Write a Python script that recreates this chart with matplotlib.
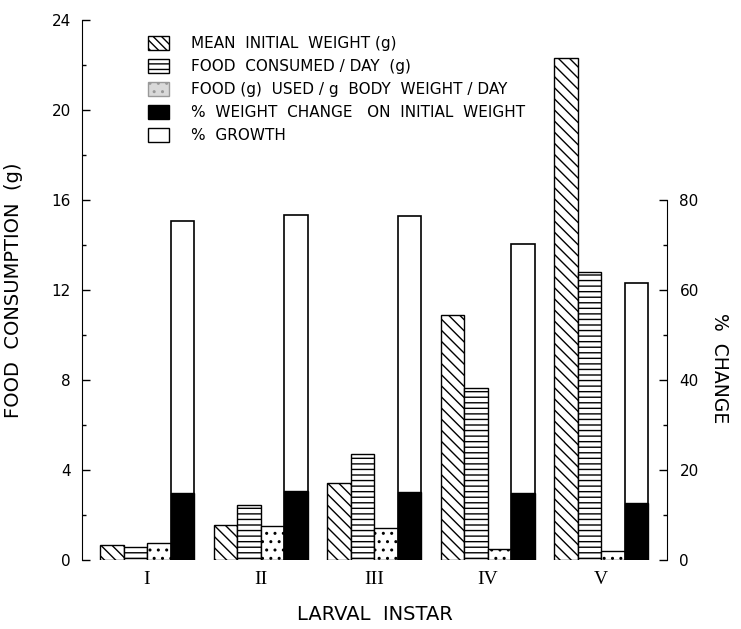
import numpy as np
import matplotlib
matplotlib.use("Agg")
import matplotlib.pyplot as plt
import matplotlib.patches as patches

################################################################################
############################### Data ###########################################
################################################################################

instars = ["I", "II", "III", "IV", "V"]
#left axis, grams
mean_initial_weight = [0.67, 1.55, 3.42, 10.9, 22.3]
food_consumed = [0.58, 2.45, 4.71, 7.64, 12.8]
food_per_body_weight = [0.76, 1.5, 1.42, 0.48, 0.4]
#right axis, percent
weight_change_pct = [14.9, 15.3, 15.1, 14.9, 12.6]
growth_pct = [75.4, 76.7, 76.5, 70.3, 61.6]

legend_labels = ["MEAN  INITIAL  WEIGHT (g)",
                 "FOOD  CONSUMED / DAY  (g)",
                 "FOOD (g)  USED / g  BODY  WEIGHT / DAY",
                 "%  WEIGHT  CHANGE   ON  INITIAL  WEIGHT",
                 "%  GROWTH"]

################################################################################
############################### Plot ###########################################
################################################################################

fig = plt.figure(figsize=(7.41, 6.29), dpi=100)
ax = fig.add_axes([82/741, 69/629, 585/741, 540/629])
ax2 = ax.twinx()

x = np.arange(len(instars))
w = 0.207 #bar width in group units

styles = dict(facecolor="white", edgecolor="black", linewidth=1.0)
b1 = ax.bar(x - 1.5*w, mean_initial_weight, w, hatch="\\\\\\", **styles)
b2 = ax.bar(x - 0.5*w, food_consumed, w, hatch="---", **styles)
b3 = ax.bar(x + 0.5*w, food_per_body_weight, w, hatch="..", **styles)
b5 = ax2.bar(x + 1.5*w, growth_pct, w, facecolor="white", edgecolor="black",
             linewidth=1.2)
b4 = ax2.bar(x + 1.5*w, weight_change_pct, w, facecolor="black",
             edgecolor="black", linewidth=1.0)

#axes limits, right scale is 5x the left one
ax.set_xlim(-0.573, 4.58)
ax.set_ylim(0, 24)
ax2.set_ylim(0, 120)

#left axis
ax.set_yticks(np.arange(0, 25, 4))
ax.set_yticks(np.arange(2, 24, 4), minor=True)
ax.tick_params(axis="y", which="major", direction="in", length=6, width=1,
               labelsize=11, pad=8)
ax.tick_params(axis="y", which="minor", direction="in", length=3, width=1)
ax.set_xticks(x)
ax.set_xticklabels(instars, family="Liberation Serif", fontsize=14)
ax.tick_params(axis="x", length=0, pad=8)
for s in ["top", "right", "bottom"]:
    ax.spines[s].set_visible(False)

#right axis
ax2.set_yticks(np.arange(0, 81, 20))
ax2.set_yticks(np.arange(10, 80, 20), minor=True)
ax2.tick_params(axis="y", which="major", direction="in", length=6, width=1,
                labelsize=11, pad=9)
ax2.tick_params(axis="y", which="minor", direction="in", length=3, width=1)
for s in ["top", "left", "bottom"]:
    ax2.spines[s].set_visible(False)
ax2.spines["right"].set_bounds(0, 80)

#labels
ax.set_ylabel("FOOD  CONSUMPTION  (g)", fontsize=14)
ax.yaxis.set_label_coords(-0.1, 0.5)
ax.set_xlabel("LARVAL  INSTAR", fontsize=14)
ax.xaxis.set_label_coords(0.5, -0.083)
ax2.set_ylabel("%  CHANGE", fontsize=13.5, rotation=-90, va="center")
ax2.yaxis.set_label_coords(1.09, 0.356)

#legend
handles = [patches.Patch(facecolor="white", edgecolor="black", hatch="\\\\\\\\"),
           patches.Patch(facecolor="white", edgecolor="black", hatch="---"),
           patches.Patch(facecolor="#d9d9d9", edgecolor="#999999", hatch=".."),
           patches.Patch(facecolor="black", edgecolor="black"),
           patches.Patch(facecolor="white", edgecolor="black")]
ax.legend(handles, legend_labels, loc="upper left", frameon=False,
          bbox_to_anchor=(0.113, 0.97), borderaxespad=0, borderpad=0,
          fontsize=11, handlelength=1.4, handleheight=1.05,
          handletextpad=1.4, labelspacing=0.5)

fig.savefig("out.png", dpi=100)
